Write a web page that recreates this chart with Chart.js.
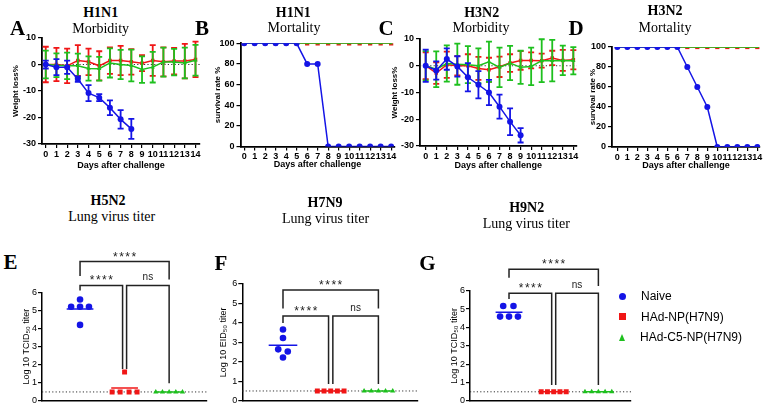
<!DOCTYPE html>
<html>
<head>
<meta charset="utf-8">
<script src="https://cdn.jsdelivr.net/npm/chart.js@4/dist/chart.umd.min.js"></script>
<style>
  body { margin: 0; width: 766px; height: 407px; position: relative; background: #fff; overflow: hidden; }
  canvas { position: absolute; }
  .txt { position: absolute; transform: translate(-50%, -50%); white-space: nowrap; color: #000;
         font-family: "Liberation Serif", "Times New Roman", serif; font-size: 14px; line-height: 1; }
  .bold { font-weight: bold; }
  .letter { font-size: 21px; font-weight: bold; }
  .legend { position: absolute; left: 617px; top: 286px; font-family: "Liberation Sans", Arial, sans-serif; font-size: 12px; }
  .legend div { height: 20.5px; display: flex; align-items: center; }
  .mk { width: 7px; height: 7px; margin: 0 15px 0 2px; }
</style>
</head>
<body>
<canvas id="cA"></canvas><canvas id="cB"></canvas><canvas id="cC"></canvas><canvas id="cD"></canvas>
<canvas id="cE"></canvas><canvas id="cF"></canvas><canvas id="cG"></canvas>
<div class="legend" id="legend"></div>
<script>
// ---- data ----
const groups = ['Naive', 'HAd-NP(H7N9)', 'HAd-C5-NP(H7N9)'];
const days = [0, 1, 2, 3, 4, 5, 6, 7, 8, 9, 10, 11, 12, 13, 14];
const weightTicks = [-30, -20, -10, 0, 10];
const survivalTicks = [0, 20, 40, 60, 80, 100];
const titerTicks = [0, 1, 2, 3, 4, 5, 6];
const detectionLimit = 0.5;

// H1N1 weight loss (mean, SD)
const h1n1Naive = [0, -1, -1, -5.5, -10.8, -12.5, -16.3, -20.7, -24.3];
const h1n1NaiveSd = [1.5, 3, 2.5, 1, 3, 1.3, 2.8, 3.5, 3.8];
const h1n1NP = [0, 0, -0.5, 1.5, 1, -0.5, 1.5, 1.5, 1, 0.5, 1.5, 1, 1.3, 1.3, 1.9];
const h1n1NPSd = [6.7, 6.3, 6.5, 5.8, 5, 5.5, 5, 5.5, 4.8, 3, 5.8, 5.5, 5, 6.5, 6.7];
const h1n1C5 = [0, -0.3, -0.5, -0.5, -1.5, -1.6, 0.6, 0, -0.4, -1.9, -1, 0.9, 0.9, 0.6, 1.6];
const h1n1C5Sd = [5.2, 4.5, 5, 4.6, 4.6, 4.5, 5.5, 5.5, 6, 5, 5.8, 5.5, 5, 5.8, 5.8];

// H3N2 weight loss (mean, SD)
const h3n2Naive = [0, -1.75, 2.5, -0.25, -4.3, -7.1, -10, -15.3, -20.9, -26];
const h3n2NaiveSd = [6, 3.4, 4, 3.8, 5.3, 5.1, 4.7, 4.5, 5, 2.7];
const h3n2NP = [0, -2.75, 0.4, 0, 0, -1, -1.5, -0.4, 1, 2, 2, 1.9, 2.9, 2, 2.25];
const h3n2NPSd = [5, 4, 4.9, 3.6, 4.3, 4.3, 4.5, 3.8, 3.3, 3.5, 3, 2.6, 2.7, 3.9, 3.6];
const h3n2C5 = [0, -1.3, 0.85, 0.6, 0.4, 0, 1.5, -0.6, 1, -0.6, -0.25, 1.9, 1.9, 2, 1.9];
const h3n2C5Sd = [5.5, 6.7, 6.75, 7.7, 6.9, 6.5, 7.5, 7.4, 6.4, 6.2, 7, 8, 7.75, 5.5, 5.1];

// survival %
const h1n1SurvNaive = [100, 100, 100, 100, 100, 100, 80, 80, 0, 0, 0, 0, 0, 0, 0];
const h3n2SurvNaive = [100, 100, 100, 100, 100, 100, 100, 80, 60, 40, 0, 0, 0, 0, 0];
const survVaccinated = [100, 100, 100, 100, 100, 100, 100, 100, 100, 100, 100, 100, 100, 100, 100];

// lung virus titers (log10), per mouse, with horizontal jitter
const h5n2Naive = [5.6, 5.2, 5.2, 5.2, 4.2];
const h5n2NP = [1.6, 0.5, 0.5, 0.5, 0.5];
const h5n2C5 = [0.5, 0.5, 0.5, 0.5, 0.5];
const h7n9Naive = [3.66, 3.22, 2.64, 2.53, 2.22];
const h7n9NP = [0.5, 0.5, 0.5, 0.5, 0.5];
const h7n9C5 = [0.5, 0.5, 0.5, 0.5, 0.5];
const h9n2Naive = [5.17, 5.17, 4.59, 4.59, 4.59];
const h9n2NP = [0.5, 0.5, 0.5, 0.5, 0.5];
const h9n2C5 = [0.5, 0.5, 0.5, 0.5, 0.5];
const jitterE = [[0, -0.2, 0, 0.2, 0], [0, -0.28, -0.1, 0.1, 0.28], [-0.3, -0.15, 0, 0.15, 0.3]];
const jitterF = [[0, 0, -0.1, 0.1, 0], [-0.28, -0.14, 0, 0.14, 0.28], [-0.3, -0.15, 0, 0.15, 0.3]];
const jitterG = [[-0.13, 0.1, -0.2, 0, 0.2], [-0.28, -0.14, 0, 0.14, 0.28], [-0.3, -0.15, 0, 0.15, 0.3]];

// significance brackets: [from group, to group, bar level, left drop, right drop, label]
const sigE = [[1, 3, 7.7, 6.9, 6.7, '****'], [1, 1.955, 6.38, 6.1, 1.76, '****'], [2.045, 3, 6.38, 1.76, 0.98, 'ns']];
const sigF = [[1, 3, 5.69, 4.74, 4.74, '****'], [1, 1.955, 4.36, 4.0, 0.86, '****'], [2.045, 3, 4.36, 0.86, 0.86, 'ns']];
const sigG = [[1, 3, 7.17, 6.71, 6.26, '****'], [1, 1.955, 5.86, 5.55, 0.87, '****'], [2.045, 3, 5.86, 0.87, 0.87, 'ns']];

// ---- styles ----
const BLUE = '#1414e6', RED = '#f01616', GREEN = '#1ec01e';
const SANS = '"Liberation Sans", Arial, sans-serif';

// ---- plugins ----
const errorBars = {
  id: 'errorBars',
  afterDatasetDraw(chart, args) {
    const ds = chart.data.datasets[args.index];
    if (!ds.errors) return;
    const { ctx, scales: { x, y } } = chart;
    ctx.save();
    ctx.strokeStyle = ds.borderColor;
    ctx.lineWidth = 1.8;
    ds.data.forEach((p, i) => {
      const e = ds.errors[i];
      const px = x.getPixelForValue(p.x);
      const top = y.getPixelForValue(p.y + e), bot = y.getPixelForValue(p.y - e);
      ctx.beginPath();
      ctx.moveTo(px, top); ctx.lineTo(px, bot);
      ctx.moveTo(px - 3, top); ctx.lineTo(px + 3, top);
      ctx.moveTo(px - 3, bot); ctx.lineTo(px + 3, bot);
      ctx.stroke();
    });
    ctx.restore();
  }
};

const refLine = {
  id: 'refLine',
  beforeDatasetsDraw(chart, args, opts) {
    if (opts.value == null) return;
    const { ctx, chartArea: a, scales: { y } } = chart;
    const py = y.getPixelForValue(opts.value);
    ctx.save();
    ctx.strokeStyle = '#333';
    ctx.lineWidth = 1;
    ctx.setLineDash([1.2, 2.2]);
    ctx.beginPath(); ctx.moveTo(a.left, py); ctx.lineTo(a.right, py); ctx.stroke();
    ctx.restore();
  }
};

const brackets = {
  id: 'brackets',
  afterDraw(chart, args, opts) {
    if (!opts.items) return;
    const { ctx, scales: { x, y } } = chart;
    ctx.save();
    ctx.strokeStyle = '#222';
    ctx.fillStyle = '#222';
    ctx.lineWidth = 1.5;
    ctx.textAlign = 'center';
    ctx.textBaseline = 'alphabetic';
    opts.items.forEach(([a, b, h, da, db, label]) => {
      const xa = x.getPixelForValue(a), xb = x.getPixelForValue(b), yh = y.getPixelForValue(h);
      ctx.beginPath();
      ctx.moveTo(xa, y.getPixelForValue(da));
      ctx.lineTo(xa, yh); ctx.lineTo(xb, yh);
      ctx.lineTo(xb, y.getPixelForValue(db));
      ctx.stroke();
      if (label === 'ns') {
        ctx.font = '10px ' + SANS; ctx.letterSpacing = '0px';
        ctx.fillText(label, (xa + xb) / 2, yh - 5);
      } else {
        ctx.font = '12px ' + SANS; ctx.letterSpacing = '1.5px';
        ctx.fillText(label, (xa + xb) / 2 + 0.75, yh - 1);
      }
    });
    ctx.restore();
  }
};

// ---- helpers ----
function series(vals) { return vals.map((v, i) => ({ x: days[i], y: v })); }
function dots(vals, group, jitter) { return vals.map((v, i) => ({ x: group + jitter[i], y: v })); }
function mean(vals) { return vals.reduce((s, v) => s + v, 0) / vals.length; }
function meanBar(vals, group) { const m = mean(vals); return [{ x: group - 0.3, y: m }, { x: group + 0.3, y: m }]; }

function axisBase(fontSize, bold, borderW) {
  return {
    border: { display: true, color: '#000', width: borderW },
    grid: { display: true, drawOnChartArea: false, drawTicks: true, tickLength: 4, color: '#000', lineWidth: 1.2 },
    ticks: { color: '#000', font: { family: SANS, size: fontSize, weight: bold ? 'bold' : 'normal' } }
  };
}

// box: chart area (l, r, t, b), x range, title positions
function makeChart(id, box, datasets, opt) {
  const canvas = document.getElementById(id);
  const yLH = opt.yTitleSize * 1.2;
  const xLH = opt.xTitle ? opt.xTitleSize * 1.2 : 0;
  const L = Math.floor(box.yTitleX - yLH / 2);
  const T = box.top0;
  const yW = box.l - L;
  const xH = opt.xTitle ? box.xTitleY + xLH / 2 - box.b : 9;
  const R = Math.ceil(box.r + 14);
  const W = R - L, H = Math.ceil(box.b + xH - T) + 1;
  canvas.width = W; canvas.height = H;
  canvas.style.left = L + 'px'; canvas.style.top = T + 'px';
  canvas.style.width = W + 'px'; canvas.style.height = H + 'px';

  const xAxis = axisBase(opt.tickSize, opt.bold, opt.borderW);
  Object.assign(xAxis, {
    type: 'linear', min: box.xmin, max: box.xmax,
    afterFit: s => { s.height = xH; },
    title: opt.xTitle ? { display: true, text: opt.xTitle, color: '#000', padding: 0,
      font: { family: SANS, size: opt.xTitleSize, weight: 'bold' } } : { display: false }
  });
  if (opt.xTicks) {
    xAxis.afterBuildTicks = s => { s.ticks = opt.xTicks.map(v => ({ value: v })); };
    Object.assign(xAxis.ticks, { autoSkip: false, maxRotation: 0, padding: 1 });
  } else {
    xAxis.grid.display = false;
    xAxis.ticks.display = false;
  }
  const yAxis = axisBase(opt.tickSize, opt.bold, opt.borderW);
  Object.assign(yAxis, {
    type: 'linear', min: opt.yTicks[0], max: opt.yTicks[opt.yTicks.length - 1],
    afterFit: s => { s.width = yW; },
    afterBuildTicks: s => { s.ticks = opt.yTicks.map(v => ({ value: v })); },
    title: { display: true, text: opt.yTitle, color: '#000', padding: 0,
      font: { family: SANS, size: opt.yTitleSize, weight: opt.bold ? 'bold' : 'normal' } }
  });
  yAxis.ticks.padding = opt.bold ? 2 : 1;

  return new Chart(canvas, {
    type: 'scatter',
    data: { datasets },
    options: {
      responsive: false, animation: false, events: [],
      layout: { padding: { left: 0, top: box.t - T, right: R - box.r, bottom: H - (box.b - T) - xH } },
      scales: { x: xAxis, y: yAxis },
      plugins: {
        legend: { display: false }, tooltip: { enabled: false },
        refLine: { value: opt.refValue },
        brackets: { items: opt.brackets }
      }
    },
    plugins: [errorBars, refLine, brackets]
  });
}

function lineSet(vals, color, style, radius, errors) {
  return {
    data: series(vals), showLine: true, borderColor: color, backgroundColor: color,
    borderWidth: 1.5, pointStyle: style, pointRadius: radius, pointBorderWidth: 0,
    errors: errors
  };
}
function dotSet(vals, group, jitter, color, style, radius) {
  return { data: dots(vals, group, jitter), backgroundColor: color, borderColor: color,
    pointStyle: style, pointRadius: radius, pointBorderWidth: 0 };
}
function meanSet(vals, group, color) {
  return { data: meanBar(vals, group), showLine: true, borderColor: color, borderWidth: 1.5, pointRadius: 0 };
}

// ---- top row ----
const topOpt = { tickSize: 9, bold: true, borderW: 1.8, xTitle: 'Days after challenge', xTitleSize: 9, yTitleSize: 8, xTicks: days };

makeChart('cA', { l: 42, r: 200, t: 38, b: 144, xmin: -0.35, xmax: 14.42, yTitleX: 16.7, xTitleY: 165.7, top0: 26 }, [
  lineSet(h1n1Naive, BLUE, 'circle', 3, h1n1NaiveSd),
  lineSet(h1n1C5, GREEN, 'triangle', 2.5, h1n1C5Sd),
  lineSet(h1n1NP, RED, 'rect', 2.5, h1n1NPSd)
], Object.assign({}, topOpt, { yTicks: weightTicks, yTitle: 'Weight loss%', refValue: 0 }));

makeChart('cB', { l: 240.5, r: 394.5, t: 43.3, b: 146.5, xmin: -0.35, xmax: 14.32, yTitleX: 218.3, xTitleY: 165, top0: 31 }, [
  lineSet(h1n1SurvNaive, BLUE, 'circle', 3),
  lineSet(survVaccinated, GREEN, 'triangle', 2),
  lineSet(survVaccinated, RED, 'rect', 3)
], Object.assign({}, topOpt, { yTicks: survivalTicks, yTitle: 'survival rate %' }));

makeChart('cC', { l: 420, r: 576.5, t: 39, b: 146, xmin: -0.54, xmax: 14.3, yTitleX: 395, xTitleY: 166, top0: 27 }, [
  lineSet(h3n2Naive, BLUE, 'circle', 3, h3n2NaiveSd),
  lineSet(h3n2C5, GREEN, 'triangle', 2.5, h3n2C5Sd),
  lineSet(h3n2NP, RED, 'rect', 2.5, h3n2NPSd)
], Object.assign({}, topOpt, { yTicks: weightTicks, yTitle: 'Weight loss%', refValue: 0 }));

makeChart('cD', { l: 612, r: 760, t: 47, b: 147, xmin: -0.53, xmax: 14.27, yTitleX: 593.3, xTitleY: 165.7, top0: 35 }, [
  lineSet(h3n2SurvNaive, BLUE, 'circle', 3),
  lineSet(survVaccinated, GREEN, 'triangle', 2),
  lineSet(survVaccinated, RED, 'rect', 3)
], Object.assign({}, topOpt, { yTicks: survivalTicks, yTitle: 'survival rate %' }));

// ---- bottom row ----
const botOpt = { tickSize: 9, bold: false, borderW: 1.5, yTitleSize: 9, yTicks: titerTicks, refValue: detectionLimit };

function titerSets(naive, np, c5, jit) {
  return [
    meanSet(naive, 1, BLUE), meanSet(np, 2, RED), meanSet(c5, 3, GREEN),
    dotSet(naive, 1, jit[0], BLUE, 'circle', 3.3),
    dotSet(np, 2, jit[1], RED, 'rect', 3.5),
    dotSet(c5, 3, jit[2], GREEN, 'triangle', 3)
  ];
}

makeChart('cE', { l: 42, r: 207, t: 292.3, b: 401, xmin: 0.146, xmax: 3.85, yTitleX: 27, top0: 236 },
  titerSets(h5n2Naive, h5n2NP, h5n2C5, jitterE),
  Object.assign({}, botOpt, { yTitle: 'Log 10 TCID₅₀ titer', brackets: sigE }));

makeChart('cF', { l: 242.3, r: 418, t: 284, b: 400.7, xmin: 0.147, xmax: 3.83, yTitleX: 224, top0: 236 },
  titerSets(h7n9Naive, h7n9NP, h7n9C5, jitterF),
  Object.assign({}, botOpt, { yTitle: 'Log 10 EID₅₀ titer', brackets: sigF }));

makeChart('cG', { l: 470, r: 631, t: 290.7, b: 401, xmin: 0.127, xmax: 3.73, yTitleX: 455, top0: 236 },
  titerSets(h9n2Naive, h9n2NP, h9n2C5, jitterG),
  Object.assign({}, botOpt, { yTitle: 'Log 10 TCID₅₀ titer', brackets: sigG }));

// ---- panel titles and letters ----
const labels = [
  ['H1N1', 100.7, 13.3, 'bold'], ['Morbidity', 100.7, 29.3, ''], ['A', 17.5, 28.3, 'letter'],
  ['H1N1', 293.3, 13, 'bold'], ['Mortality', 294, 28.3, ''], ['B', 202, 28, 'letter'],
  ['H3N2', 481.7, 12.7, 'bold'], ['Morbidity', 481, 28, ''], ['C', 386, 27.5, 'letter'],
  ['H3N2', 665, 10.7, 'bold'], ['Mortality', 665, 28.3, ''], ['D', 576, 27.5, 'letter'],
  ['H5N2', 108, 201, 'bold'], ['Lung virus titer', 111.7, 216.7, ''], ['E', 10.5, 261.7, 'letter'],
  ['H7N9', 325, 203, 'bold'], ['Lung virus titer', 325.5, 219, ''], ['F', 221, 263, 'letter'],
  ['H9N2', 526.7, 208.3, 'bold'], ['Lung virus titer', 526.3, 224, ''], ['G', 427.5, 262.7, 'letter']
];
labels.forEach(([text, x, y, cls]) => {
  const d = document.createElement('div');
  d.className = 'txt ' + cls;
  d.textContent = text;
  d.style.left = x + 'px'; d.style.top = y + 'px';
  document.body.appendChild(d);
});

// ---- legend ----
const legendShapes = [
  'background:' + BLUE + ';border-radius:50%',
  'background:' + RED,
  'width:0;height:0;border-left:3.5px solid transparent;border-right:3.5px solid transparent;border-bottom:7px solid ' + GREEN
];
const legend = document.getElementById('legend');
groups.forEach((g, i) => {
  const row = document.createElement('div');
  row.innerHTML = '<span class="mk" style="' + legendShapes[i] + '"></span>';
  row.appendChild(document.createTextNode(g));
  legend.appendChild(row);
});
</script>
</body>
</html>
